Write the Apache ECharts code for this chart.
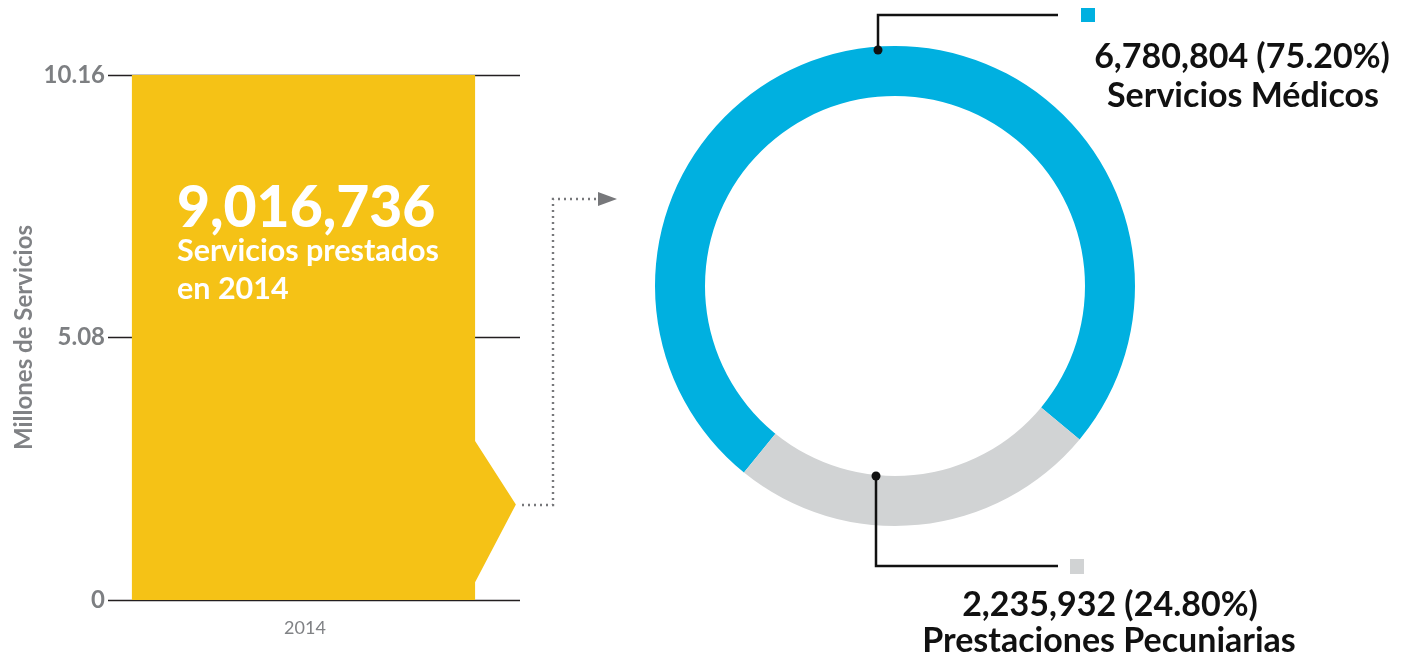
<!DOCTYPE html>
<html>
<head>
<meta charset="utf-8">
<script src="https://cdn.jsdelivr.net/npm/echarts@6/dist/echarts.min.js"></script>
<style>
html,body{margin:0;padding:0;background:#fff;}
#main{width:1414px;height:660px;}
</style>
</head>
<body>
<div id="main"></div>
<script>
// ---- data ----
var years = ['2014'];
var barValues = [10.16];
var yTicks = [0, 5.08, 10.16];
var totalText = '9,016,736';
var totalCaption = ['Servicios prestados', 'en 2014'];
var sliceNames = ['Servicios Médicos', 'Prestaciones Pecuniarias'];
var sliceValues = [6780804, 2235932];
var slicePercents = ['75.20%', '24.80%'];
var sliceColors = ['#00B0E0', '#D1D3D4'];

var FONT = 'Lato, "Open Sans", sans-serif';
function fmt(n){ return n.toString().replace(/\B(?=(\d{3})+(?!\d))/g, ','); }

var chart = echarts.init(document.getElementById('main'), null, {renderer:'canvas'});

var pieCenter = [895, 286];
var pieR = [190, 240];

var option = {
  animation: false,
  backgroundColor: '#ffffff',
  grid: {left: 108, top: 75, width: 412, bottom: 60},
  xAxis: {
    type: 'category',
    data: years,
    axisLine: {show: false},
    axisTick: {show: false},
    axisLabel: {color: '#808285', fontSize: 18, fontFamily: FONT, margin: 19, padding: [0, 18, 0, 0]}
  },
  yAxis: {
    type: 'value',
    min: yTicks[0],
    max: yTicks[yTicks.length - 1],
    interval: yTicks[1] - yTicks[0],
    name: 'Millones de Servicios',
    nameLocation: 'middle',
    nameGap: 72,
    nameTextStyle: {color: '#808285', fontSize: 24, fontFamily: FONT, fontWeight: 'bold'},
    axisLine: {show: false},
    axisTick: {show: false},
    axisLabel: {color: '#7d7f82', fontSize: 24, fontWeight: 'bold', fontFamily: FONT, margin: 3,
      formatter: function(v){ return v === 0 ? '0' : v.toFixed(2); }},
    splitLine: {lineStyle: {color: '#231F20', width: 1.3}}
  },
  series: [
    {
      type: 'custom',
      data: barValues.map(function(v, i){ return [i, v]; }),
      encode: {x: 0, y: 1},
      z: 3,
      renderItem: function(params, api){
        var top = api.coord([api.value(0), api.value(1)]);
        var base = api.coord([api.value(0), 0]);
        var bw = api.size([1, 0])[0];
        var x0 = top[0] - bw / 2;
        var L = x0 + bw * 0.058, R = x0 + bw * 0.891, T = x0 + bw * 0.990;
        var h = base[1] - top[1];
        var y1 = top[1] + h * 0.697, yt = top[1] + h * 0.818, y2 = top[1] + h * 0.966;
        return {
          type: 'polygon',
          shape: {points: [[L, top[1]], [R, top[1]], [R, y1], [T, yt], [R, y2], [R, base[1]], [L, base[1]]]},
          style: {fill: '#F5C216'}
        };
      }
    },
    {
      type: 'pie',
      center: pieCenter,
      radius: pieR,
      startAngle: 231,
      clockwise: true,
      label: {show: false},
      labelLine: {show: false},
      emphasis: {disabled: true},
      data: sliceNames.map(function(n, i){
        return {name: n, value: sliceValues[i], itemStyle: {color: sliceColors[i]}};
      })
    }
  ],
  graphic: [
    // text inside bar
    {type: 'text', x: 177, y: 209, z: 10, style: {text: totalText, fill: '#fff', font: '900 57px ' + FONT, verticalAlign: 'middle'}},
    {type: 'text', x: 177, y: 251, z: 10, style: {text: totalCaption[0], fill: '#fff', font: 'bold 30.5px ' + FONT, verticalAlign: 'middle'}},
    {type: 'text', x: 177, y: 289, z: 10, style: {text: totalCaption[1], fill: '#fff', font: 'bold 30.5px ' + FONT, verticalAlign: 'middle'}},
    // dotted connector
    {type: 'polyline', z: 10, shape: {points: [[522, 505], [553, 505], [553, 199], [600, 199]]},
      style: {stroke: '#77787B', lineWidth: 2.4, lineDash: [2, 4], fill: null}},
    {type: 'polygon', z: 10, shape: {points: [[598, 192], [617, 199], [598, 206]]}, style: {fill: '#77787B'}},
    // blue leader
    {type: 'polyline', z: 10, shape: {points: [[878, 50], [878, 15], [1058, 15]]},
      style: {stroke: '#111', lineWidth: 2.5, fill: null}},
    {type: 'circle', z: 11, shape: {cx: 878, cy: 50, r: 4.5}, style: {fill: '#111'}},
    {type: 'rect', z: 10, shape: {x: 1081, y: 8, width: 14, height: 14}, style: {fill: sliceColors[0]}},
    {type: 'text', z: 10, x: 1242, y: 57, style: {text: fmt(sliceValues[0]) + ' (' + slicePercents[0] + ')', fill: '#111',
      font: 'bold 34px ' + FONT, align: 'center', verticalAlign: 'middle'}},
    {type: 'text', z: 10, x: 1243, y: 96, style: {text: sliceNames[0], fill: '#111',
      font: 'bold 34px ' + FONT, align: 'center', verticalAlign: 'middle'}},
    // gray leader
    {type: 'polyline', z: 10, shape: {points: [[876, 476], [876, 566], [1058, 566]]},
      style: {stroke: '#111', lineWidth: 2.5, fill: null}},
    {type: 'circle', z: 11, shape: {cx: 876, cy: 476, r: 4.5}, style: {fill: '#111'}},
    {type: 'rect', z: 10, shape: {x: 1070, y: 559, width: 14, height: 15}, style: {fill: sliceColors[1]}},
    {type: 'text', z: 10, x: 1110, y: 605, style: {text: fmt(sliceValues[1]) + ' (' + slicePercents[1] + ')', fill: '#111',
      font: 'bold 34px ' + FONT, align: 'center', verticalAlign: 'middle'}},
    {type: 'text', z: 10, x: 1109, y: 641, style: {text: sliceNames[1], fill: '#111',
      font: 'bold 34px ' + FONT, align: 'center', verticalAlign: 'middle'}}
  ]
};
chart.setOption(option);
</script>
</body>
</html>
